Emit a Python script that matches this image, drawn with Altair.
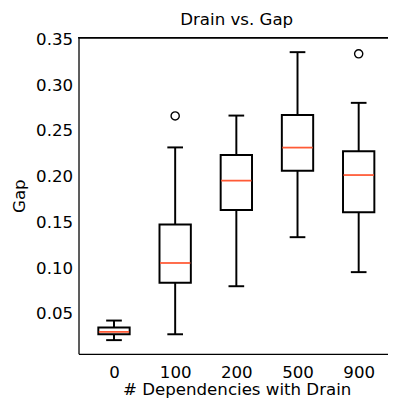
import altair as alt
import pandas as pd

categories = ["0", "100", "200", "500", "900"]
whisker_lo = [0.0214, 0.0278, 0.0803, 0.1339, 0.0957]
q1 = [0.0278, 0.0840, 0.1636, 0.2064, 0.1611]
median = [0.0304, 0.1057, 0.1957, 0.2318, 0.2018]
q3 = [0.0353, 0.1478, 0.2236, 0.2675, 0.2279]
whisker_hi = [0.0428, 0.2320, 0.2668, 0.3361, 0.2807]
outlier_cat = ["100", "900"]
outlier_val = [0.2664, 0.3343]
y_ticks = [0.05, 0.10, 0.15, 0.20, 0.25, 0.30, 0.35]

df = pd.DataFrame({
    "cat": categories,
    "pos": list(range(1, len(categories) + 1)),
    "lo": whisker_lo, "q1": q1, "med": median, "q3": q3, "hi": whisker_hi,
})
out = pd.DataFrame({
    "pos": [categories.index(c) + 1 for c in outlier_cat],
    "val": outlier_val,
})

FONT = "DejaVu Sans"
W, H = 316, 323
label_expr = "[" + ",".join(f"'{c}'" for c in categories) + "][datum.value - 1]"

xs = alt.Scale(domain=[0.5, 0.5 + W / 64.5], nice=False, zero=False)
ys = alt.Scale(domain=[0.0064, 0.3521], nice=False, zero=False)

x_axis = alt.Axis(values=list(range(1, len(categories) + 1)), labelExpr=label_expr,
                  ticks=False, grid=False, labelPadding=11, title="# Dependencies with Drain",
                  titleX=161.5, titleY=41, titleBaseline="alphabetic")
y_axis = alt.Axis(values=y_ticks, format=".2f", ticks=False, grid=False, labelPadding=6,
                  title="Gap", titleX=-55, titleY=H / 2, titleBaseline="alphabetic",
                  titleAngle=270)

base = alt.Chart(df)
X = alt.X("pos:Q", scale=xs, axis=x_axis)

whisk_up = base.mark_rule(color="black", strokeWidth=2).encode(
    x=X, y=alt.Y("q3:Q", scale=ys, axis=y_axis), y2="hi:Q")
whisk_dn = base.mark_rule(color="black", strokeWidth=2).encode(
    x="pos:Q", y="lo:Q", y2="q1:Q")
cap_hi = base.mark_tick(color="black", thickness=2, size=16, orient="horizontal",
                        opacity=1).encode(x="pos:Q", y="hi:Q")
cap_lo = base.mark_tick(color="black", thickness=2, size=16, orient="horizontal",
                        opacity=1).encode(x="pos:Q", y="lo:Q")
boxes = base.mark_bar(fill="white", stroke="black", strokeWidth=2, size=32, opacity=1).encode(
    x="pos:Q", y="q1:Q", y2="q3:Q")
meds = base.mark_tick(color="#ff5a36", thickness=1.8, size=31, orient="horizontal",
                      opacity=1).encode(x="pos:Q", y="med:Q")
pts = alt.Chart(out).mark_point(filled=False, color="black", size=70, strokeWidth=1.4,
                                opacity=1).encode(x="pos:Q", y="val:Q")
top = base.mark_rule(color="black", strokeWidth=1.3).encode(
    x=alt.value(0), x2=alt.value(W), y=alt.value(0))

chart = alt.layer(whisk_up, whisk_dn, cap_hi, cap_lo, boxes, meds, pts, top).properties(
    width=W, height=H,
    background="white",
    title=alt.TitleParams("Drain vs. Gap", font=FONT, fontSize=17, fontWeight="normal",
                          color="black", anchor="middle", frame="group", offset=6,
                          dx=3.5, dy=4),
    autosize=alt.AutoSizeParams(type="none"),
    padding={"left": 72, "top": 26, "right": 0, "bottom": 44},
).configure_view(stroke=None).configure_axis(
    labelFont=FONT, labelFontSize=17, labelColor="black",
    titleFont=FONT, titleFontSize=17, titleFontWeight="normal", titleColor="black",
    domainColor="black", domainWidth=1.3,
)

chart.save("out.html", embed_options={"renderer": "svg", "actions": False})
